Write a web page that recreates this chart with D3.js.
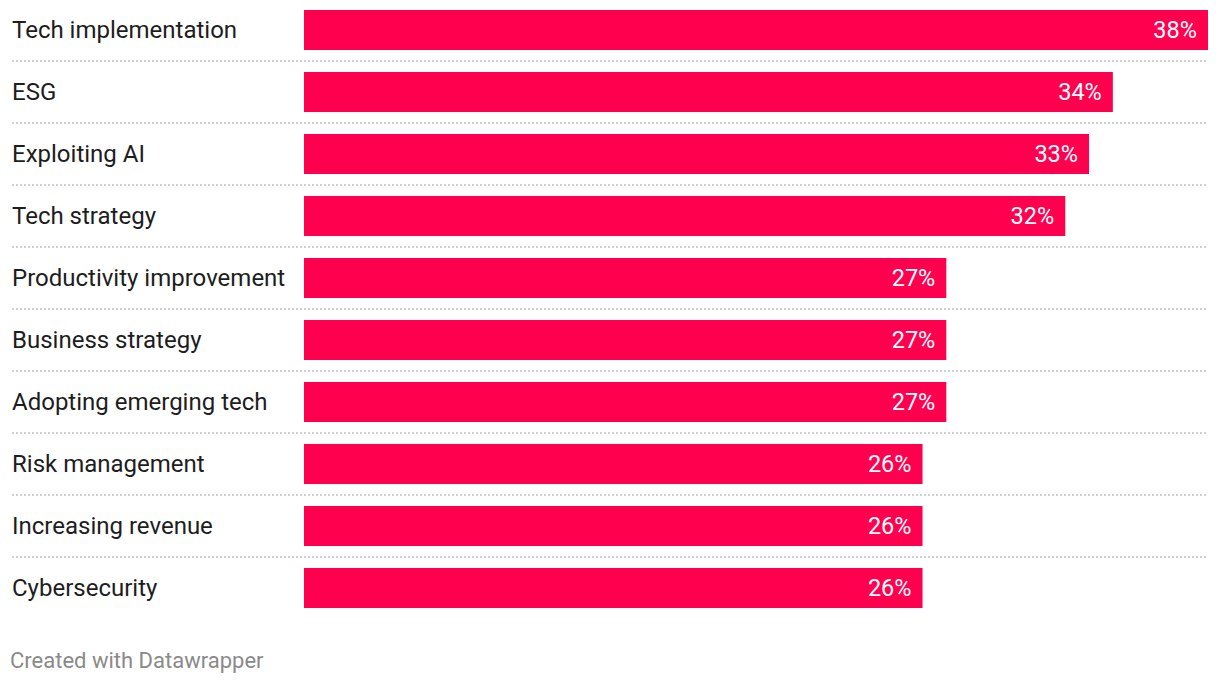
<!DOCTYPE html>
<html>
<head>
<meta charset="utf-8">
<script src="https://cdn.jsdelivr.net/npm/d3@7"></script>
<style>
  body { margin: 0; background: #fff; }
  svg { display: block; font-family: Roboto, sans-serif; }
</style>
</head>
<body>
<svg id="chart" width="1220" height="684"></svg>
<script>
const categories = ["Tech implementation", "ESG", "Exploiting AI", "Tech strategy", "Productivity improvement", "Business strategy", "Adopting emerging tech", "Risk management", "Increasing revenue", "Cybersecurity"];
const values = [38, 34, 33, 32, 27, 27, 27, 26, 26, 26];

const svg = d3.select("#chart");
const barX0 = 304, barX1 = 1208;
const x = d3.scaleLinear().domain([0, d3.max(values)]).range([barX0, barX1]);
const y = d3.scaleBand().domain(categories).range([10, 608]).paddingInner(22/62).paddingOuter(0);

const rows = svg.selectAll("g.row").data(categories).enter().append("g").attr("class", "row");

rows.filter((d, i) => i < categories.length - 1).append("line")
  .attr("x1", 12).attr("x2", barX1)
  .attr("y1", d => y(d) + y.bandwidth() + 11)
  .attr("y2", d => y(d) + y.bandwidth() + 11)
  .attr("stroke", "#d0d0d0").attr("stroke-width", 2)
  .attr("stroke-dasharray", "2,2");

rows.append("rect")
  .attr("x", x(0))
  .attr("y", d => y(d))
  .attr("width", (d, i) => x(values[i]) - x(0))
  .attr("height", y.bandwidth())
  .attr("fill", "#ff004f");

rows.append("text")
  .attr("x", 12)
  .attr("y", d => y(d) + y.bandwidth() / 2)
  .attr("dy", "0.33em")
  .attr("font-size", 24)
  .attr("fill", "#1d1d1d")
  .text(d => d);

rows.append("text")
  .attr("x", (d, i) => x(values[i]) - 11)
  .attr("y", d => y(d) + y.bandwidth() / 2)
  .attr("dy", "0.34em")
  .attr("text-anchor", "end")
  .attr("font-size", 23.5)
  .attr("fill", "#fff")
  .text((d, i) => values[i] + "%");

svg.append("text")
  .attr("x", 10).attr("y", 668)
  .attr("font-size", 22)
  .attr("fill", "#8a8a8a")
  .text("Created with Datawrapper");
</script>
</body>
</html>
